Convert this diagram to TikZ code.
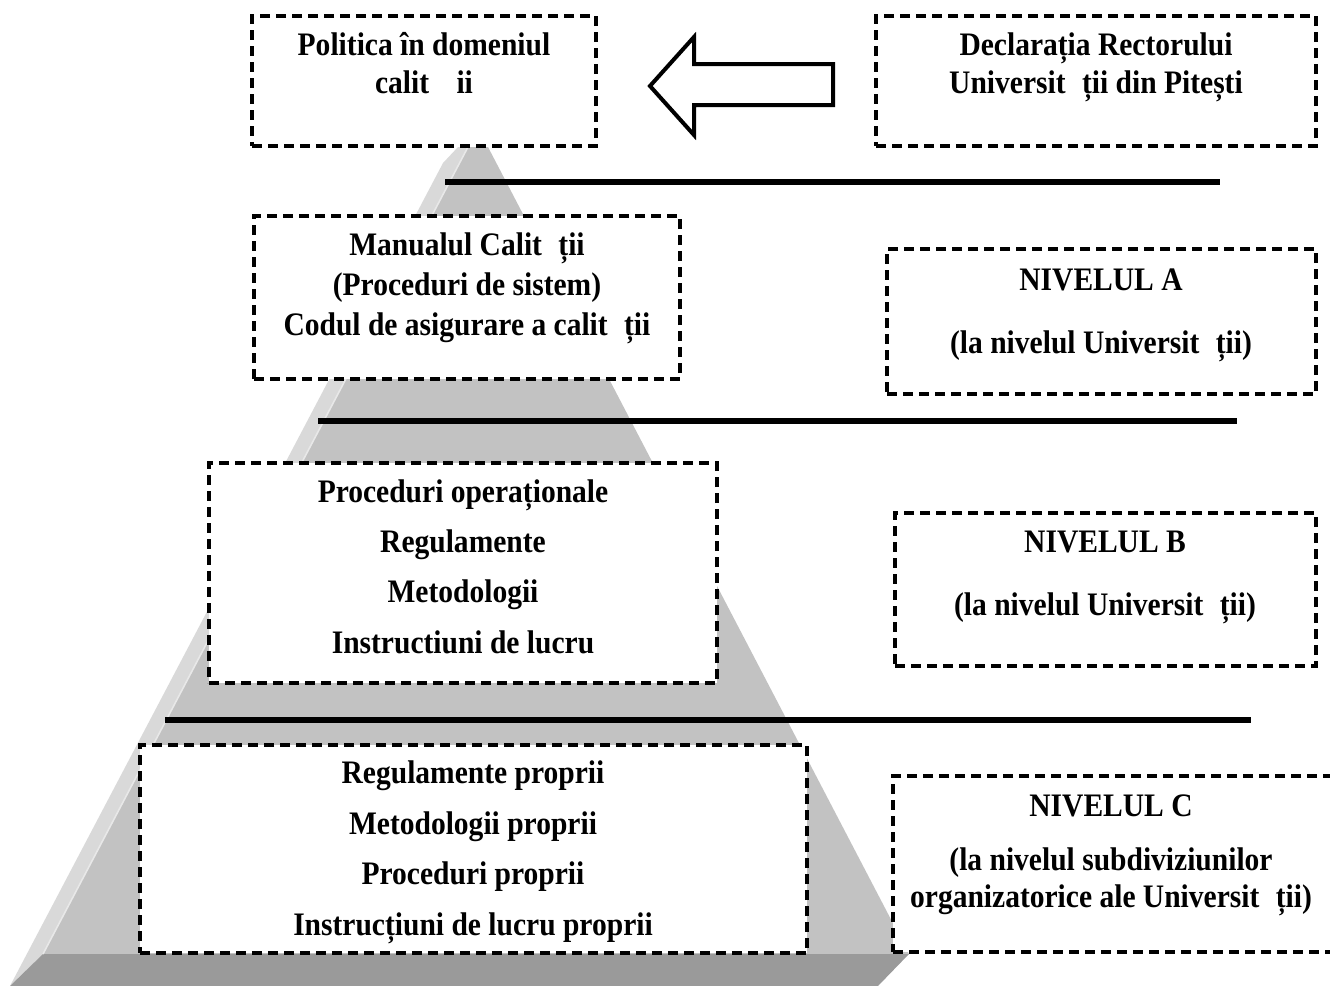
\documentclass[tikz,border=0pt]{standalone}
\usepackage{fontspec}
\setmainfont{Liberation Serif}[FakeStretch=0.9]
\usetikzlibrary{fit}
\definecolor{lightface}{HTML}{D9D9D9}
\definecolor{frontface}{HTML}{C2C2C2}
\definecolor{baseface}{HTML}{9A9A9A}
\definecolor{hilite}{HTML}{E8E8E8}
\begin{document}
\begin{tikzpicture}[x=0.5pt,y=-0.5pt,
  dbox/.style={draw=black, line width=1.7pt, dash pattern=on 4.8pt off 3.2pt, fill=white, inner sep=0pt},
  txt/.style={font=\fontsize{16.4pt}{19pt}\selectfont\bfseries, anchor=base, inner sep=0pt},
  rulebar/.style={line width=3pt, draw=black}]
\useasboundingbox (0,0) rectangle (1330,986);
% pyramid
\fill[lightface] (458,147) -- (443,163) -- (10,986) -- (43,954) -- (468,147) -- cycle;
\fill[frontface] (468,147) -- (488,147) -- (909,954) -- (43,954) -- cycle;
\fill[baseface] (43,954) -- (909,954) -- (878,986) -- (10,986) -- cycle;
\draw[hilite, line width=0.8pt] (468,147) -- (43,954);
% boxes
\node[dbox, fit={(252,16) (596,146)}] (b1) {};
\node[dbox, fit={(876,16) (1316,146)}] (b2) {};
\node[dbox, fit={(254,216) (680,379)}] (b3) {};
\node[dbox, fit={(887,249) (1316,394)}] (bA) {};
\node[dbox, fit={(209,463) (717,683)}] (b4) {};
\node[dbox, fit={(895,513) (1316,666)}] (bB) {};
\node[dbox, fit={(140,745) (807,953)}] (b5) {};
\node[dbox, fit={(893,776) (1345,952)}] (bC) {};
% rules
\draw[rulebar] (445,182) -- (1220,182);
\draw[rulebar] (318,421) -- (1237,421);
\draw[rulebar] (165,720) -- (1251,720);
% arrow
\draw[line width=2pt, fill=white, line join=miter] (650,86) -- (694,37) -- (694,64) -- (833,64) -- (833,105) -- (694,105) -- (694,135) -- cycle;
% texts
\node[txt] (t1a) at (424,55) {Politica în domeniul};
\node[txt] (t1b) at (424,93) {calit\hspace{0.833em}ii};
\node[txt] (t2a) at (1096,55) {Declarația Rectorului};
\node[txt] (t2b) at (1096,93) {Universit\hspace{0.5em}ții din Pitești};
\node[txt] (t3a) at (467,255) {Manualul Calit\hspace{0.5em}ții};
\node[txt] (t3b) at (467,295) {(Proceduri de sistem)};
\node[txt] (t3c) at (467,335) {Codul de asigurare a calit\hspace{0.5em}ții};
\node[txt] (tAa) at (1101,290) {NIVELUL A};
\node[txt] (tAb) at (1101,353) {(la nivelul Universit\hspace{0.5em}ții)};
\node[txt] (t4a) at (463,502) {Proceduri operaționale};
\node[txt] (t4b) at (463,552) {Regulamente};
\node[txt] (t4c) at (463,602) {Metodologii};
\node[txt] (t4d) at (463,653) {Instructiuni de lucru};
\node[txt] (tBa) at (1105,552) {NIVELUL B};
\node[txt] (tBb) at (1105,615) {(la nivelul Universit\hspace{0.5em}ții)};
\node[txt] (t5a) at (473,783) {Regulamente proprii};
\node[txt] (t5b) at (473,834) {Metodologii proprii};
\node[txt] (t5c) at (473,884) {Proceduri proprii};
\node[txt] (t5d) at (473,935) {Instrucțiuni de lucru proprii};
\node[txt] (tCa) at (1111,816) {NIVELUL C};
\node[txt] (tCb) at (1111,870) {(la nivelul subdiviziunilor};
\node[txt] (tCc) at (1111,907) {organizatorice ale Universit\hspace{0.5em}ții)};
\end{tikzpicture}
\end{document}
